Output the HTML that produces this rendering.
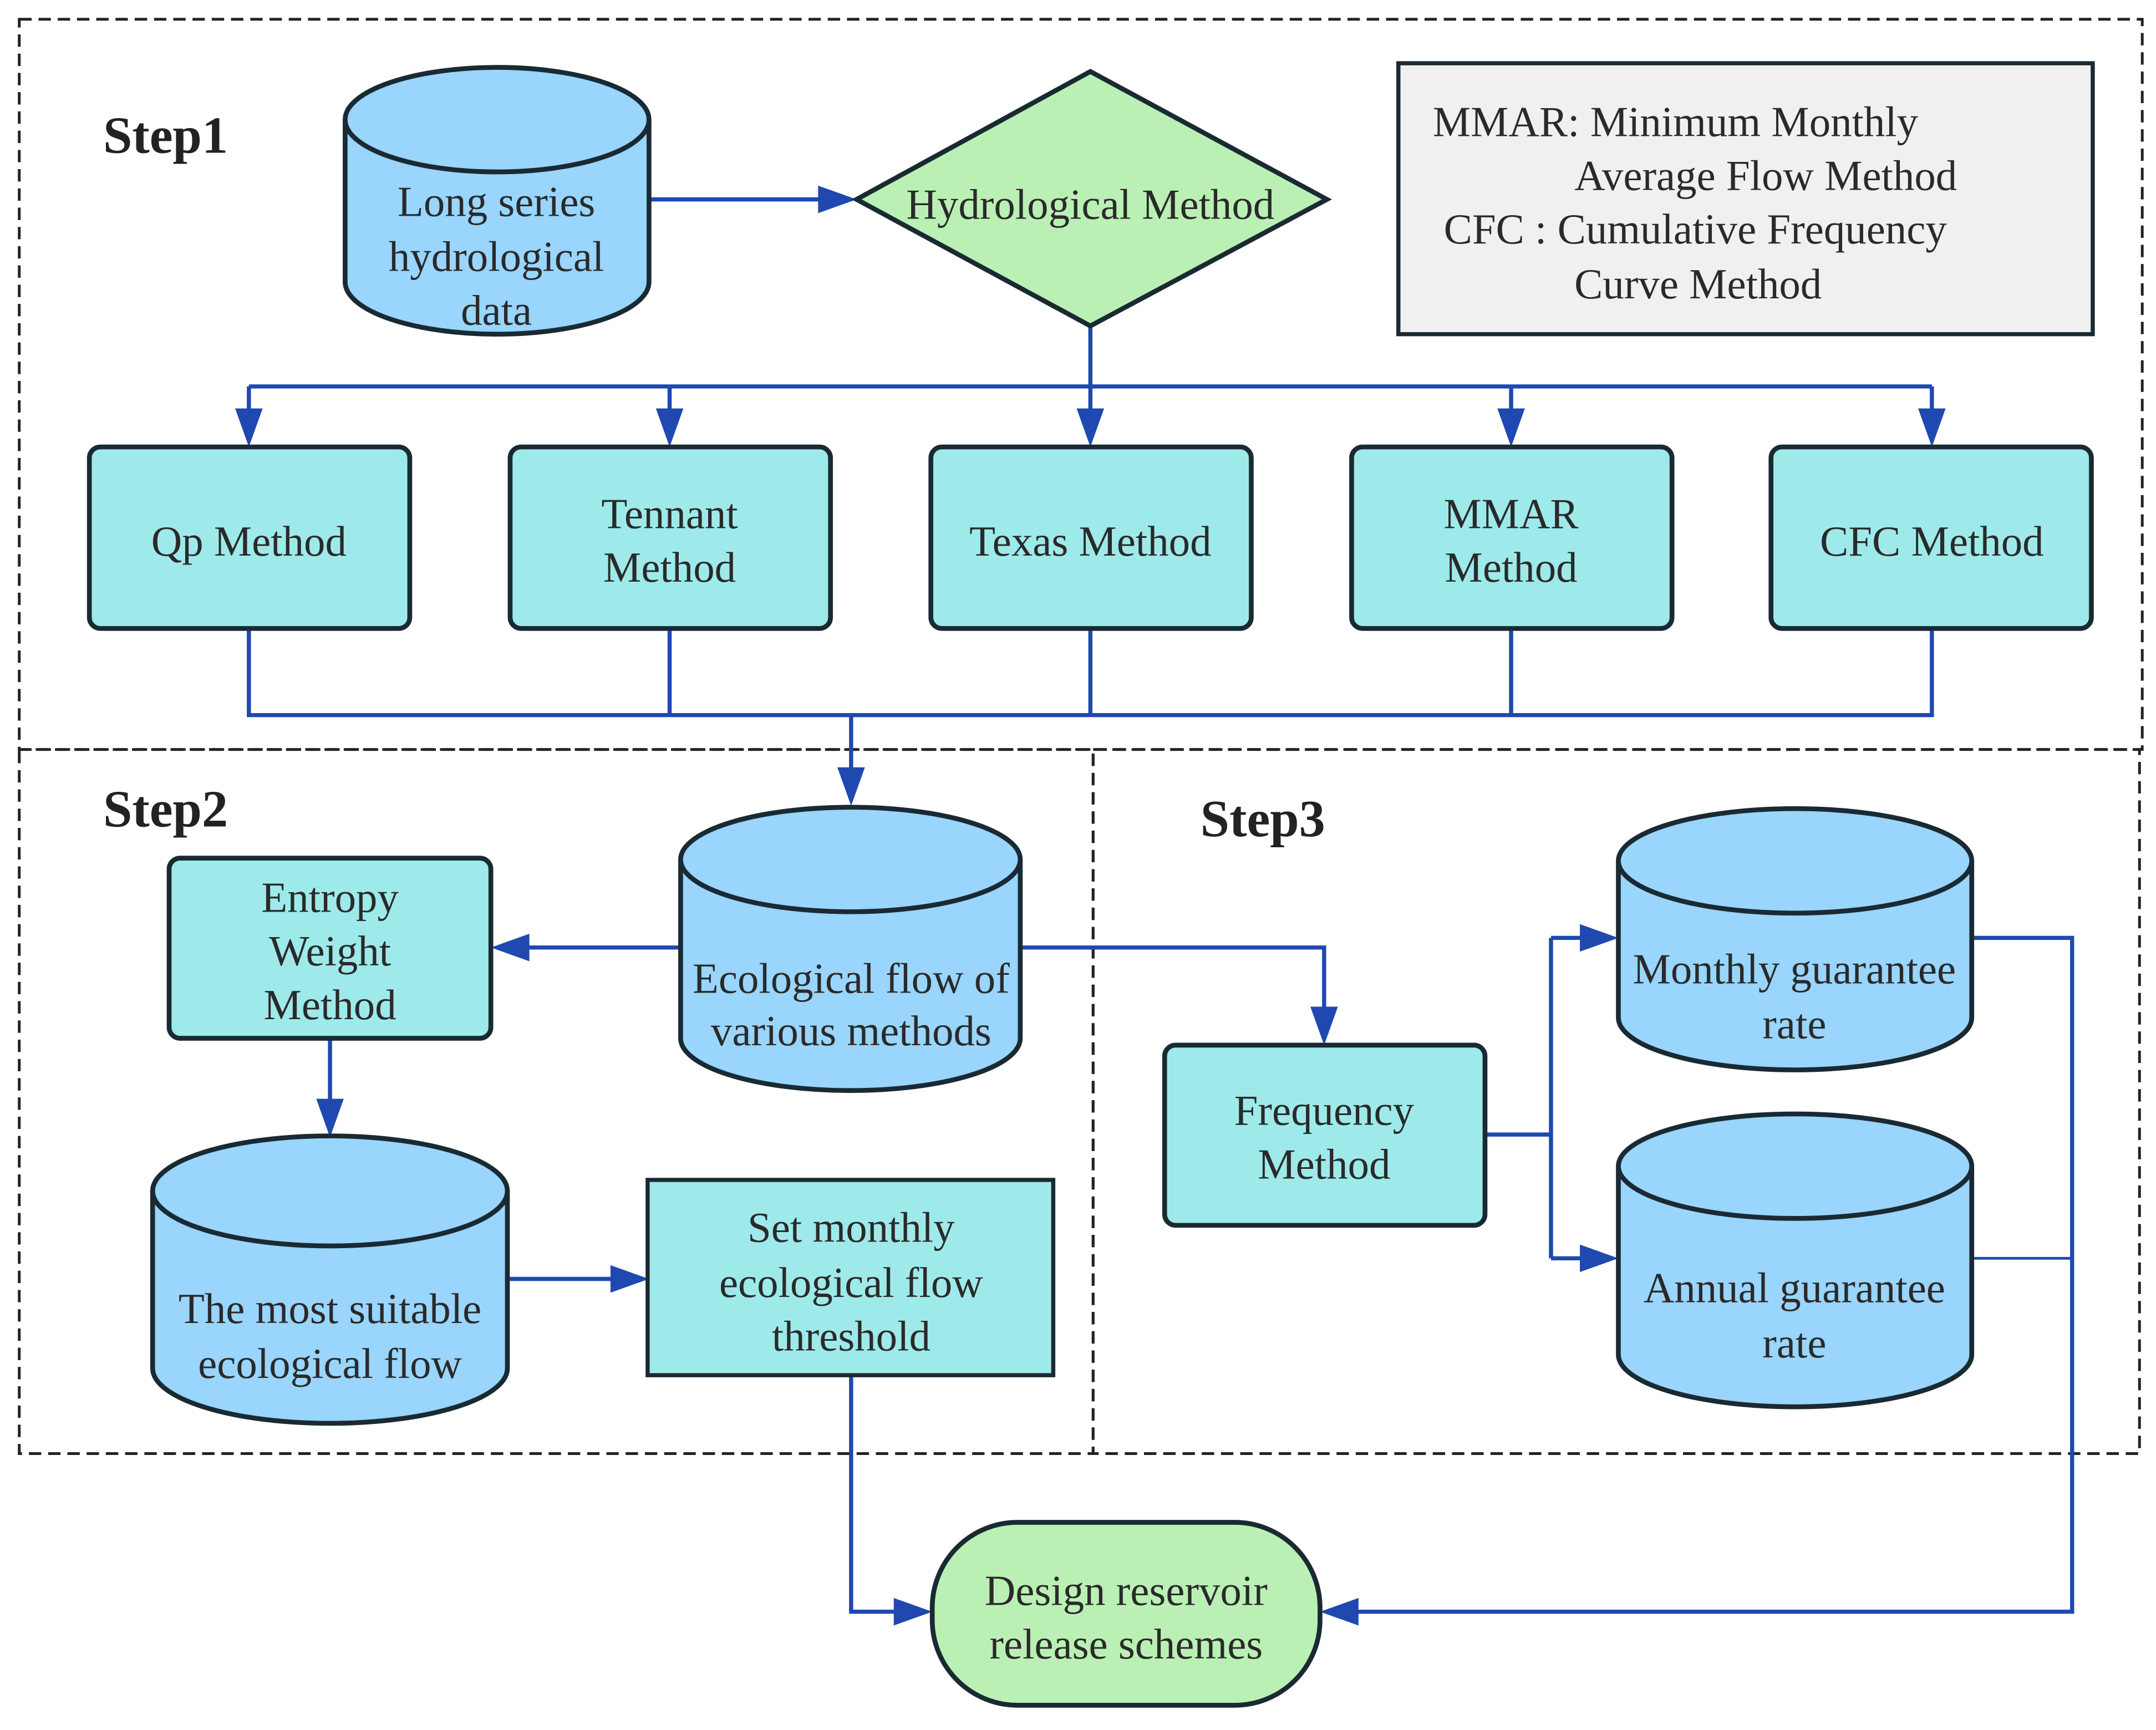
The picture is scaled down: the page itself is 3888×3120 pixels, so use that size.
<!DOCTYPE html>
<html><head><meta charset="utf-8"><style>html,body{margin:0;padding:0;background:#fff}svg{display:block}</style></head>
<body>
<svg width="3888" height="3120" viewBox="0 0 1568 1258" preserveAspectRatio="none" xmlns="http://www.w3.org/2000/svg" font-family="'Liberation Serif', serif" fill="#222">
<g fill="none" stroke="#222" stroke-width="2" stroke-dasharray="9,5">
<rect x="14" y="14" width="1544" height="531"/>
<rect x="14" y="545" width="781" height="512"/>
<rect x="795" y="545" width="761" height="512"/>
</g>
<g font-weight="bold" font-size="38">
<text x="75" y="111">Step1</text>
<text x="75" y="601">Step2</text>
<text x="873" y="608">Step3</text>
</g>
<g fill="none" stroke="#1f48b0" stroke-width="3">
<path d="M472 145H600"/>
<path d="M793 237V305M181 281H1405M181 281V305M487 281V305M1099 281V305M1405 281V305"/>
<path d="M181 457V520H1405V457M487 457V520M793 457V520M1099 457V520M619 520V565"/>
<path d="M495 689H380"/>
<path d="M240 755V805"/>
<path d="M369 930H450"/>
<path d="M619 1000V1172H656"/>
<path d="M742 689H963V738"/>
<path d="M1080 825H1128M1128 682V915M1128 682H1155M1128 915H1155"/>
<path d="M1434 682H1507V1172H984"/>
<path d="M1434 915H1507" stroke-width="2"/>
</g>
<g fill="#1f48b0">
<polygon points="623,145 595,135 595,155"/>
<polygon points="793,325 783,297 803,297"/>
<polygon points="181,325 171,297 191,297"/>
<polygon points="487,325 477,297 497,297"/>
<polygon points="1099,325 1089,297 1109,297"/>
<polygon points="1405,325 1395,297 1415,297"/>
<polygon points="619,586 609,558 629,558"/>
<polygon points="357,689 385,679 385,699"/>
<polygon points="240,827 230,799 250,799"/>
<polygon points="472,930 444,920 444,940"/>
<polygon points="678,1172 650,1162 650,1182"/>
<polygon points="963,760 953,732 973,732"/>
<polygon points="1177,682 1149,672 1149,692"/>
<polygon points="1177,915 1149,905 1149,925"/>
<polygon points="960,1172 988,1162 988,1182"/>
</g>
<g stroke="#1a2a33" stroke-width="3.5">
<path d="M251 87V205A110.5 38 0 0 0 472 205V87" fill="#99d5fd"/>
<ellipse cx="361.5" cy="87" rx="110.5" ry="38" fill="#99d5fd"/>
<polygon points="623,145 793,52 965,145 793,237" fill="#bbf0b5"/>
<rect x="1017" y="46" width="505" height="197" fill="#f0f0f0" stroke-width="3"/>
<rect x="65" y="325" width="233" height="132" rx="8" fill="#9eeaea"/>
<rect x="371" y="325" width="233" height="132" rx="8" fill="#9eeaea"/>
<rect x="677" y="325" width="233" height="132" rx="8" fill="#9eeaea"/>
<rect x="983" y="325" width="233" height="132" rx="8" fill="#9eeaea"/>
<rect x="1288" y="325" width="233" height="132" rx="8" fill="#9eeaea"/>
<path d="M495 625V755A123.5 38 0 0 0 742 755V625" fill="#99d5fd"/>
<ellipse cx="618.5" cy="625" rx="123.5" ry="38" fill="#99d5fd"/>
<rect x="123" y="624" width="234" height="131" rx="8" fill="#9eeaea"/>
<path d="M111 866V995A129 40 0 0 0 369 995V866" fill="#99d5fd"/>
<ellipse cx="240" cy="866" rx="129" ry="40" fill="#99d5fd"/>
<rect x="471" y="858" width="295" height="142" fill="#9eeaea" stroke-width="3"/>
<rect x="678" y="1107" width="282" height="133" rx="62" fill="#bbf0b5"/>
<rect x="847" y="760" width="233" height="131" rx="8" fill="#9eeaea"/>
<path d="M1177 626V740A128.5 38 0 0 0 1434 740V626" fill="#99d5fd"/>
<ellipse cx="1305.5" cy="626" rx="128.5" ry="38" fill="#99d5fd"/>
<path d="M1177 848V985A128.5 38 0 0 0 1434 985V848" fill="#99d5fd"/>
<ellipse cx="1305.5" cy="848" rx="128.5" ry="38" fill="#99d5fd"/>
</g>
<g font-size="31" text-anchor="middle" fill="#2a2a2a">
<text x="361" y="157">Long series</text>
<text x="361" y="197">hydrological</text>
<text x="361" y="236">data</text>
<text x="793" y="159">Hydrological Method</text>
<text x="181" y="404">Qp Method</text>
<text x="487" y="384">Tennant</text>
<text x="487" y="423">Method</text>
<text x="793" y="404">Texas Method</text>
<text x="1099" y="384">MMAR</text>
<text x="1099" y="423">Method</text>
<text x="1405" y="404">CFC Method</text>
<text x="619" y="722">Ecological flow of</text>
<text x="619" y="760">various methods</text>
<text x="240" y="663">Entropy</text>
<text x="240" y="702">Weight</text>
<text x="240" y="741">Method</text>
<text x="240" y="962">The most suitable</text>
<text x="240" y="1002">ecological flow</text>
<text x="619" y="903">Set monthly</text>
<text x="619" y="943">ecological flow</text>
<text x="619" y="982">threshold</text>
<text x="819" y="1167">Design reservoir</text>
<text x="819" y="1206">release schemes</text>
<text x="963" y="818">Frequency</text>
<text x="963" y="857">Method</text>
<text x="1305" y="715">Monthly guarantee</text>
<text x="1305" y="755">rate</text>
<text x="1305" y="947">Annual guarantee</text>
<text x="1305" y="987">rate</text>
</g>
<g font-size="31" fill="#2a2a2a">
<text x="1042" y="99">MMAR: Minimum Monthly</text>
<text x="1145" y="138">Average Flow Method</text>
<text x="1050" y="177">CFC  : Cumulative Frequency</text>
<text x="1145" y="217">Curve Method</text>
</g>
</svg>
</body></html>
